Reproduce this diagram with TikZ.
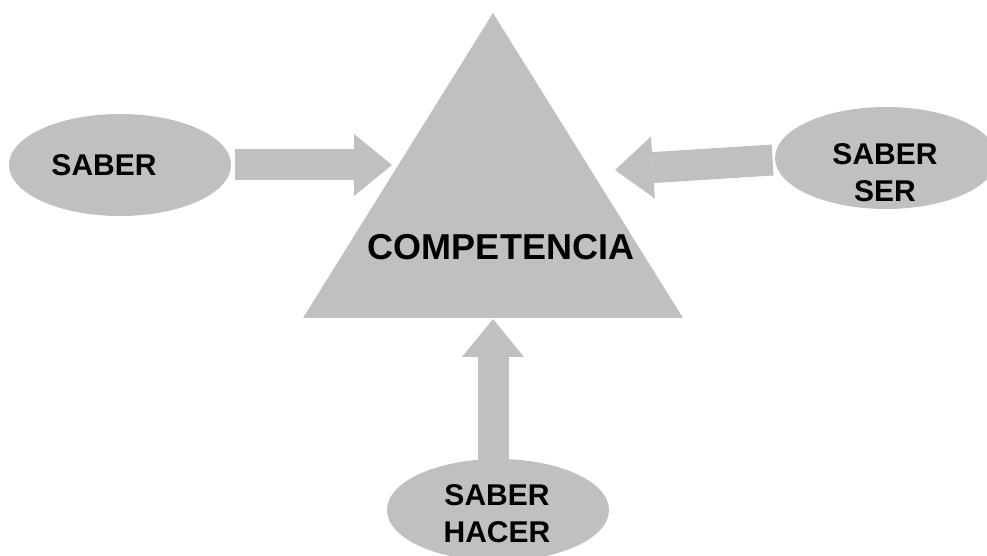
\documentclass[tikz,border=0pt]{standalone}
\usepackage{fontspec}
\setmainfont{Liberation Sans}
\usetikzlibrary{arrows.meta, positioning, shapes.geometric}
\definecolor{boxGray}{gray}{0.753}
\tikzset{
    bubble/.style={ellipse, fill=boxGray, inner sep=0pt, minimum width=111pt, minimum height=51pt},
    bubbleText/.style={align=center, font=\bfseries\fontsize{15}{18.5}\selectfont},
    blockArrow/.style={draw=boxGray, line width=15.5pt, -{Triangle[length=19pt, width=31pt, line width=0pt]}}
}

\begin{document}
\begin{tikzpicture}[x=0.5pt, y=-0.5pt]
    \useasboundingbox (0,0) rectangle (987,556);
    \coordinate (Top) at (493,13);
    \coordinate (BaseL) at (303,318);
    \coordinate (BaseR) at (683,318);

    \fill[boxGray] (Top)--(BaseL)--(BaseR)--cycle;
    \node[font=\bfseries\fontsize{18}{22}\selectfont] (comp) at (501,247) {COMPETENCIA};

    % Ellipses
    \node[bubble] (saber) at (120,165) {};
    \node[bubble] (saberSer) at (886,158) {};
    \node[bubble] (saberHacer) at (498,510) {};
    \node[bubbleText] (saberLbl) at (104,165) {SABER};
    \node[bubbleText] (saberSerLbl) at (885,173) {SABER\\SER};
    \node[bubbleText] (saberHacerLbl) at (497,514) {SABER\\HACER};

    % Arrows
    \coordinate (tipL) at (392,165);
    \coordinate (tipR) at (615,170);
    \coordinate (tipB) at (493,319);
    \draw[blockArrow] ([xshift=2pt]saber.east) -- (tipL);
    \draw[blockArrow] ([xshift=-1pt,yshift=-1pt]saberSer.west) -- (tipR);
    \draw[blockArrow] ([xshift=-2.5pt,yshift=-10pt]saberHacer.north) -- (tipB);
\end{tikzpicture}
\end{document}
